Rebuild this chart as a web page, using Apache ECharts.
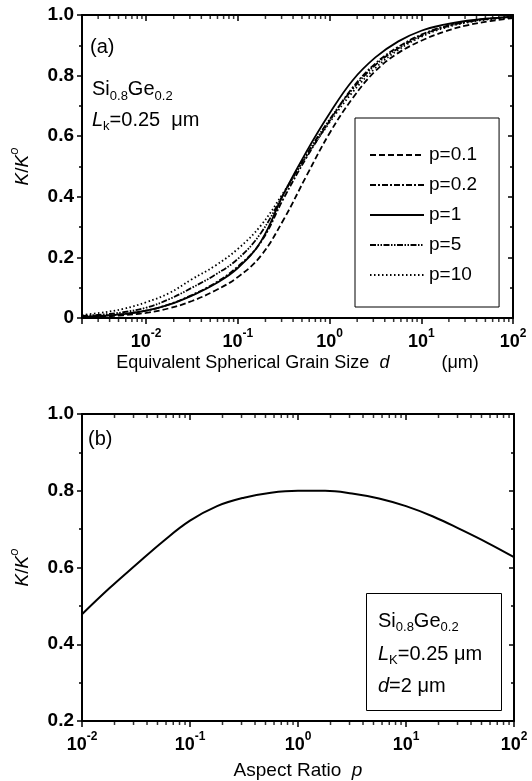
<!DOCTYPE html>
<html><head><meta charset="utf-8">
<script src="https://cdn.jsdelivr.net/npm/echarts@6/dist/echarts.min.js"></script>
<style>html,body{margin:0;padding:0;background:#fff}#c{width:532px;height:781px}</style>
</head><body><div id="c"></div>
<script>
// ---- Panel (a): K/K0 vs equivalent spherical grain size d (um) ----
const grainSize = [0.002, 0.00316, 0.00562, 0.01, 0.0178, 0.0316, 0.0562, 0.1, 0.178, 0.316, 0.562, 1, 1.78, 3.16, 5.62, 10, 17.8, 31.6, 56.2, 100];
const kP01 = [0.003, 0.005, 0.009, 0.017, 0.032, 0.056, 0.090, 0.135, 0.205, 0.325, 0.470, 0.610, 0.725, 0.815, 0.875, 0.915, 0.945, 0.966, 0.980, 0.990];
const kP02 = [0.004, 0.007, 0.013, 0.024, 0.045, 0.076, 0.115, 0.170, 0.250, 0.395, 0.530, 0.650, 0.760, 0.840, 0.895, 0.935, 0.962, 0.978, 0.988, 0.994];
const kP1  = [0.004, 0.007, 0.013, 0.024, 0.044, 0.074, 0.112, 0.165, 0.252, 0.410, 0.550, 0.675, 0.784, 0.860, 0.913, 0.948, 0.968, 0.981, 0.989, 0.994];
const kP5  = [0.007, 0.011, 0.019, 0.034, 0.062, 0.100, 0.142, 0.195, 0.280, 0.410, 0.540, 0.655, 0.755, 0.835, 0.890, 0.932, 0.960, 0.977, 0.988, 0.994];
const kP10 = [0.010, 0.017, 0.030, 0.052, 0.082, 0.128, 0.172, 0.228, 0.305, 0.415, 0.535, 0.645, 0.745, 0.825, 0.885, 0.928, 0.957, 0.975, 0.986, 0.993];
const seriesNames = ['p=0.1', 'p=0.2', 'p=1', 'p=5', 'p=10'];

// ---- Panel (b): K/K0 vs aspect ratio p ----
const aspectRatio = [0.01, 0.0178, 0.0316, 0.0562, 0.1, 0.178, 0.316, 0.562, 1, 1.78, 3.16, 5.62, 10, 17.8, 31.6, 56.2, 100];
const kAspect = [0.478, 0.545, 0.607, 0.668, 0.722, 0.760, 0.782, 0.795, 0.800, 0.800, 0.793, 0.780, 0.760, 0.733, 0.700, 0.665, 0.627];

const FONT = '"Liberation Sans", Arial, sans-serif';
const chart = echarts.init(document.getElementById('c'));

function zip(xs, ys) { return xs.map((x, i) => [x, ys[i]]); }
function minorLogTicks(min, max) {
  const out = [];
  for (let e = Math.floor(Math.log10(min)); e < Math.log10(max); e++) {
    for (let k = 2; k <= 9; k++) {
      const v = k * Math.pow(10, e);
      if (v > min * 1.0001 && v < max * 0.9999) out.push(v);
    }
  }
  return out;
}
function logLabel(v) {
  const l = Math.log10(v), e = Math.round(l);
  if (Math.abs(l - e) > 1e-6) return '';
  return '{b|10}{s|' + e + '}';
}
const logRich = {
  b: { fontSize: 18, fontWeight: 'bold', lineHeight: 18, verticalAlign: 'bottom', fontFamily: FONT, color: '#000' },
  s: { fontSize: 12, fontWeight: 'bold', lineHeight: 23, verticalAlign: 'top', fontFamily: FONT, color: '#000' }
};
const axisLine = { show: true, onZero: false, lineStyle: { color: '#000', width: 2 } };

function xAxes(gridIndex, min, max, name, nameGap, nameSize) {
  return [
    { type: 'log', logBase: 10, gridIndex, min, max, position: 'bottom',
      axisLine, splitLine: { show: false },
      axisTick: { show: true, inside: false, length: 6, lineStyle: { color: '#000', width: 1.5 } },
      axisLabel: { formatter: logLabel, rich: logRich, margin: 10, showMinLabel: true, showMaxLabel: true, hideOverlap: false },
      name, nameLocation: 'middle', nameGap,
      nameTextStyle: { fontSize: nameSize, fontFamily: FONT, color: '#000',
        rich: {
          i: { fontSize: nameSize, fontStyle: 'italic', fontFamily: FONT, color: '#000' },
          g: { fontSize: nameSize, fontFamily: FONT, color: '#000', padding: [0, 0, 0, 52] }
        } } },
    { type: 'log', logBase: 10, gridIndex, min, max, position: 'top',
      axisLine, splitLine: { show: false },
      axisTick: { show: true, inside: true, length: 6, lineStyle: { color: '#000', width: 1.5 } },
      axisLabel: { show: false } }
  ];
}
function yAxes(gridIndex, min, max, fmt) {
  const yname = '{i|K}{n|/}{i|K}{o|o}';
  return [
    { type: 'value', gridIndex, min, max, interval: 0.2, position: 'left',
      axisLine, splitLine: { show: false },
      axisTick: { show: true, inside: false, length: 5, lineStyle: { color: '#000', width: 1.5 } },
      minorTick: { show: true, splitNumber: 2, length: 3, lineStyle: { color: '#000', width: 1.5 } },
      axisLabel: { formatter: fmt, fontSize: 19, fontWeight: 'bold', fontFamily: FONT, color: '#000', margin: 8 },
      name: yname, nameLocation: 'middle', nameGap: 50, nameRotate: 90,
      nameTextStyle: { rich: {
        i: { fontSize: 19, fontStyle: 'italic', fontFamily: FONT, color: '#000', lineHeight: 19, verticalAlign: 'bottom' },
        n: { fontSize: 19, fontFamily: FONT, color: '#000', lineHeight: 19, verticalAlign: 'bottom' },
        o: { fontSize: 13, fontStyle: 'italic', fontFamily: FONT, color: '#000', lineHeight: 24, verticalAlign: 'top' } } } },
    { type: 'value', gridIndex, min, max, interval: 0.2, position: 'right',
      axisLine, splitLine: { show: false },
      axisTick: { show: true, inside: true, length: 5, lineStyle: { color: '#000', width: 1.5 } },
      minorTick: { show: true, splitNumber: 2, length: 3, lineStyle: { color: '#000', width: 1.5 } },
      axisLabel: { show: false } }
  ];
}
function tickSeries(xAxisIndex, yAxisIndex, xs, y) {
  return { type: 'scatter', xAxisIndex, yAxisIndex, silent: true, clip: false, z: 5,
    symbol: 'rect', symbolSize: [1.5, 4], symbolOffset: [0, 2],
    itemStyle: { color: '#000' }, data: xs.map(v => [v, y]) };
}

const lineTypes = [[6, 3], [6, 2, 2, 2], 'solid', [6, 1.5, 1.5, 1.5, 1.5, 1.5], [1.5, 2.5]];
const dataA = [kP01, kP02, kP1, kP5, kP10];
const seriesA = seriesNames.map((n, i) => ({
  name: n, type: 'line', xAxisIndex: 0, yAxisIndex: 0, symbol: 'none', smooth: 0.4,
  itemStyle: { color: '#000' },
  lineStyle: { color: '#000', width: 1.8, type: lineTypes[i] }, data: zip(grainSize, dataA[i])
}));

const minorA = minorLogTicks(0.002, 100);
const minorB = minorLogTicks(0.01, 100);

const sub = {
  n: { fontSize: 20, lineHeight: 20, verticalAlign: 'top', fontFamily: FONT, color: '#000' },
  ni: { fontSize: 20, lineHeight: 20, verticalAlign: 'top', fontFamily: FONT, color: '#000', fontStyle: 'italic' },
  s: { fontSize: 13, lineHeight: 23, verticalAlign: 'bottom', fontFamily: FONT, color: '#000' }
};
function txt(x, y, text) {
  return { type: 'text', x, y, z: 10, style: { text, rich: sub, fill: '#000', font: '20px ' + FONT, verticalAlign: 'middle', align: 'left' } };
}

chart.setOption({
  backgroundColor: '#fff',
  animation: false,
  grid: [
    { left: 79, top: 15, width: 434, height: 303 },
    { left: 74, top: 414, width: 440, height: 307 }
  ],
  xAxis: [
    ...xAxes(0, 0.002, 100, 'Equivalent Spherical Grain Size  {i|d}{g|(μm)}', 36, 18),
    ...xAxes(1, 0.01, 100, 'Aspect Ratio  {i|p}', 40, 19)
  ],
  yAxis: [
    ...yAxes(0, 0, 1, v => v === 0 ? '0' : v.toFixed(1)),
    ...yAxes(1, 0.2, 1, v => v.toFixed(1))
  ],
  legend: {
    data: seriesNames, orient: 'vertical', left: 355, top: 118,
    padding: [27, 22, 22, 14], itemGap: 10, itemWidth: 54, itemHeight: 20,
    borderColor: '#000', borderWidth: 1, backgroundColor: '#fff',
    itemStyle: { opacity: 0 },
    textStyle: { fontSize: 19, lineHeight: 20, fontFamily: FONT, color: '#000' }
  },
  series: [
    ...seriesA,
    { name: 'aspect', type: 'line', xAxisIndex: 2, yAxisIndex: 2, symbol: 'none', smooth: 0.4,
      lineStyle: { color: '#000', width: 2 }, data: zip(aspectRatio, kAspect) },
    tickSeries(0, 0, minorA, 0),
    tickSeries(1, 1, minorA, 1),
    tickSeries(2, 2, minorB, 0.2),
    tickSeries(3, 3, minorB, 1)
  ],
  graphic: [
    txt(90, 47, '{n|(a)}'),
    txt(92, 91, '{n|Si}{s|0.8}{n|Ge}{s|0.2}'),
    txt(92, 121.5, '{ni|L}{s|k}{n|=0.25  μm}'),
    txt(88, 439, '{n|(b)}'),
    { type: 'rect', z: 9, shape: { x: 366.5, y: 593.5, width: 135, height: 117 },
      style: { fill: '#fff', stroke: '#000', lineWidth: 1 } },
    txt(378, 622.5, '{n|Si}{s|0.8}{n|Ge}{s|0.2}'),
    txt(378, 655.5, '{ni|L}{s|K}{n|=0.25 μm}'),
    txt(378, 686, '{ni|d}{n|=2 μm}')
  ]
});
</script></body></html>
